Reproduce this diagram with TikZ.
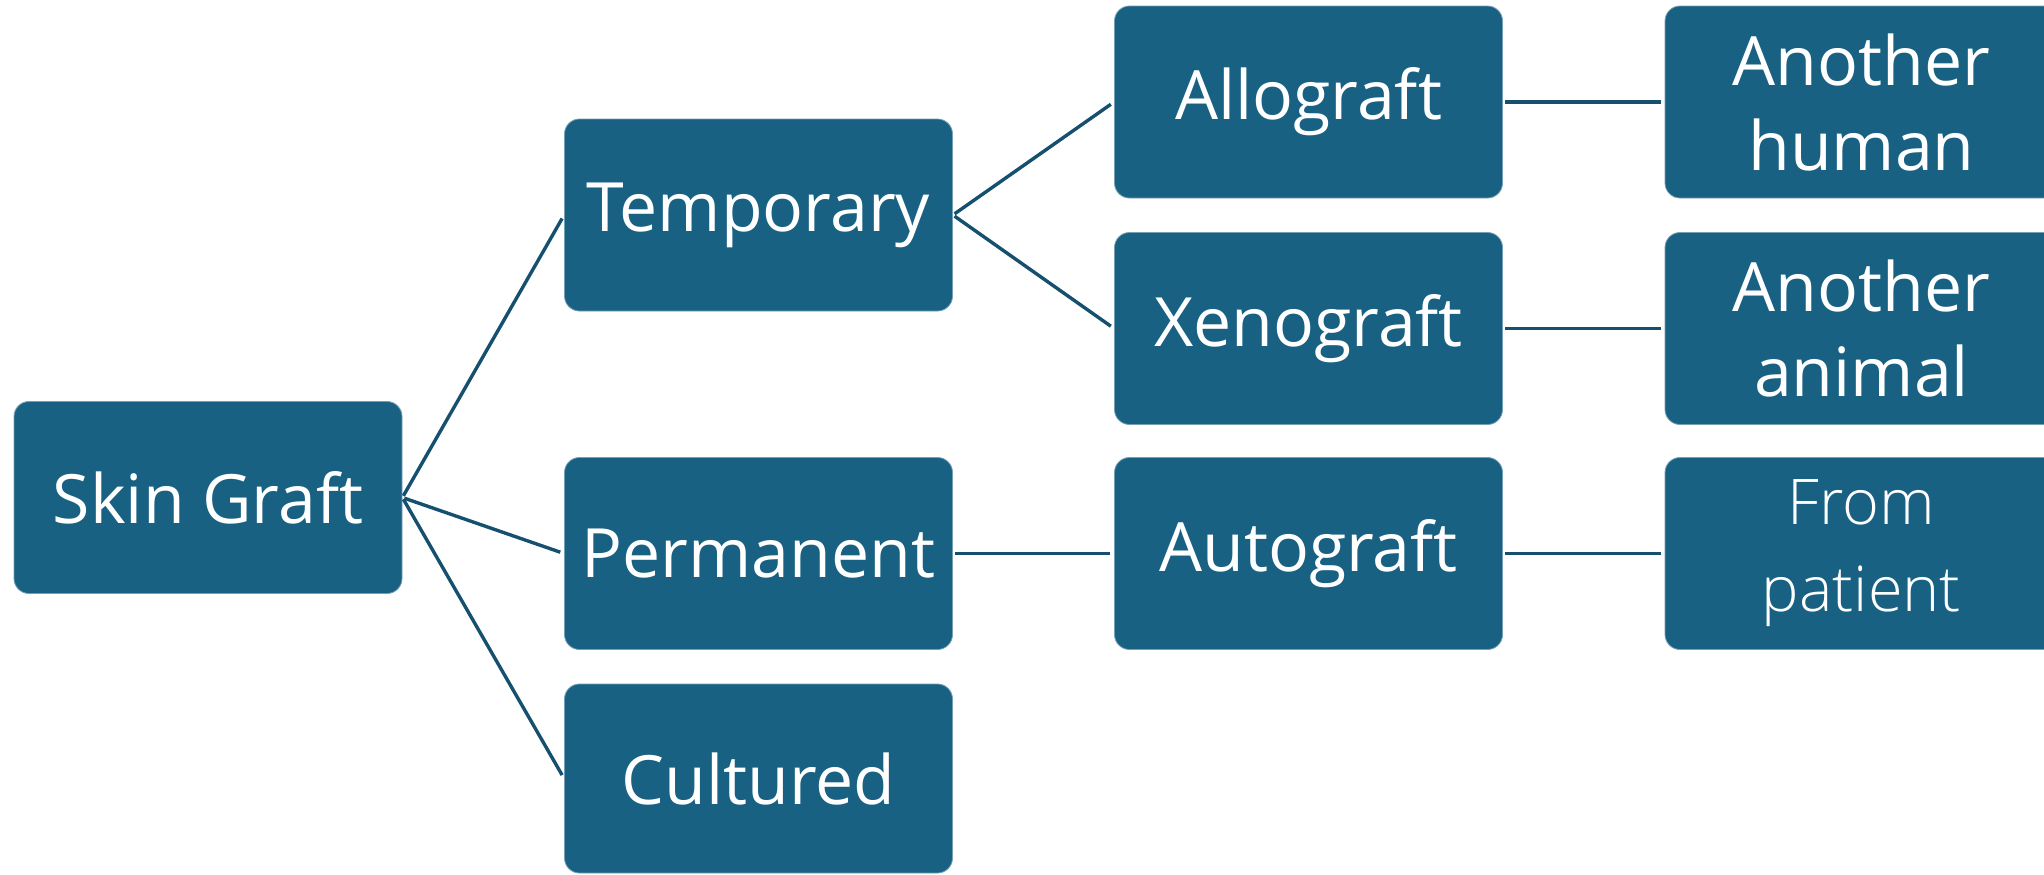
\documentclass[tikz,border=0pt]{standalone}
\usepackage{fontspec}
\setmainfont{Open Sans}
\newfontfamily\lightfont{Open Sans Light}
\definecolor{boxc}{RGB}{24,97,131}
\definecolor{linec}{RGB}{21,80,110}
\tikzset{
  gbox/.style={rectangle, rounded corners=7.5pt, fill=boxc, draw=boxc!60!white, line width=0.4pt,
    text=white, minimum width=194pt, minimum height=96pt, inner sep=0pt, align=center,
    font=\fontsize{34}{42.5}\selectfont},
  gboxs/.style={gbox, font=\fontsize{34}{42.5}\selectfont},
  gboxw/.style={gboxs, minimum width=196.5pt},
  conn/.style={draw=linec, line width=1.7pt, shorten >=2pt, shorten <=1pt}
}
\begin{document}
\begin{tikzpicture}[x=0.5pt, y=-0.5pt]
\useasboundingbox (0,0) rectangle (2044,874);
\node[gbox] (sg) at (208,497.5) {Skin Graft};
\node[gbox] (tmp) at (758.5,215) {Temporary};
\node[gbox] (perm) at (758.5,553.5) {Permanent};
\node[gbox, minimum height=94.5pt] (cult) at (758.5,778.5) {Cultured};
\node[gboxs] (allo) at (1308.5,102) {Allograft};
\node[gboxs] (xeno) at (1308.5,328.5) {Xenograft};
\node[gboxs] (auto) at (1308.5,553.5) {Autograft};
\node[gboxw] (hum) at (1861.5,102) {Another\\human};
\node[gboxw] (ani) at (1861.5,328.5) {Another\\animal};
\node[gboxw, font=\lightfont\fontsize{31.5}{43.5}\selectfont] (pat) at (1861.5,553.5) {From\\patient};
\draw[conn] (sg.east) -- (tmp.west);
\draw[conn] (sg.east) -- (perm.west);
\draw[conn] (sg.east) -- (cult.west);
\draw[conn] (tmp.east) -- (allo.west);
\draw[conn] (tmp.east) -- (xeno.west);
\draw[conn] (perm.east) -- (auto.west);
\draw[conn] (allo.east) -- (hum.west);
\draw[conn] (xeno.east) -- (ani.west);
\draw[conn] (auto.east) -- (pat.west);
\end{tikzpicture}
\end{document}
